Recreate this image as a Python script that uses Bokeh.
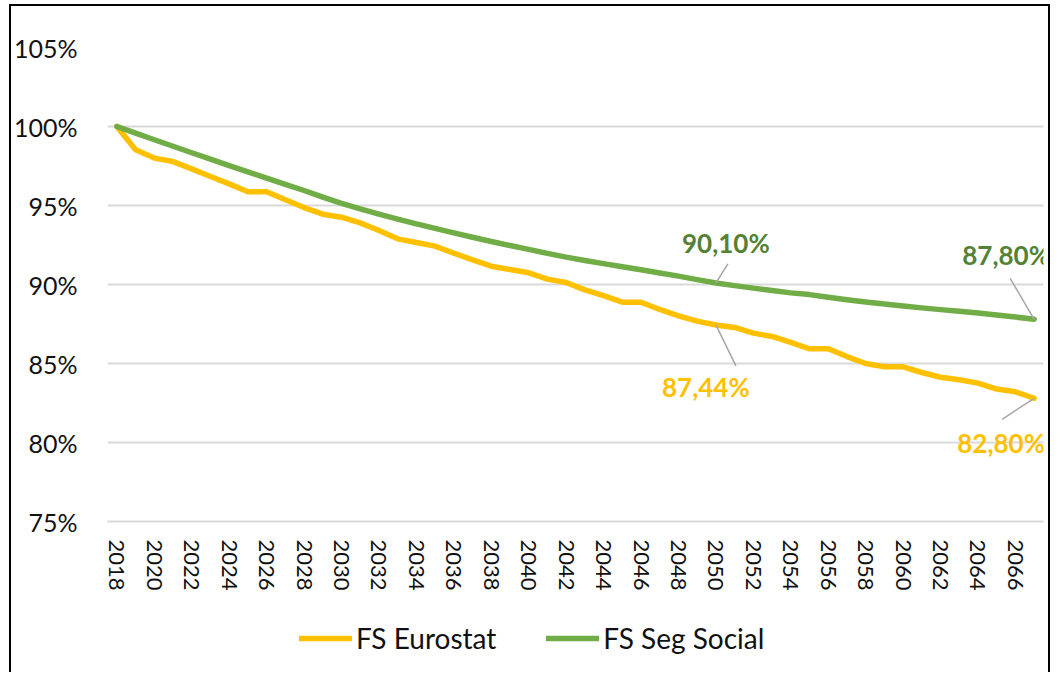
from bokeh.plotting import figure
from bokeh.models import Legend, LegendItem, FixedTicker, Range1d
from bokeh.layouts import column
from bokeh.core.properties import value
from bokeh.embed import file_html
from bokeh.resources import INLINE

# ---------------- data ----------------
years = list(range(2018, 2068))
fs_eurostat = [100.00, 98.53, 98.00, 97.78, 97.32, 96.84, 96.37, 95.87, 95.87, 95.36,
               94.87, 94.45, 94.26, 93.90, 93.42, 92.89, 92.66, 92.43, 91.98, 91.56,
               91.16, 90.95, 90.74, 90.34, 90.13, 89.66, 89.30, 88.88, 88.88, 88.42,
               88.02, 87.68, 87.44, 87.28, 86.92, 86.71, 86.33, 85.93, 85.93, 85.44,
               85.00, 84.79, 84.79, 84.43, 84.13, 83.97, 83.76, 83.38, 83.21, 82.80]
fs_seg_social = [100.00, 99.58, 99.16, 98.75, 98.34, 97.93, 97.53, 97.13, 96.73, 96.34,
                 95.95, 95.53, 95.13, 94.79, 94.46, 94.14, 93.84, 93.55, 93.27, 92.99,
                 92.72, 92.47, 92.22, 91.97, 91.73, 91.52, 91.32, 91.12, 90.93, 90.73,
                 90.53, 90.31, 90.10, 89.93, 89.77, 89.62, 89.47, 89.36, 89.19, 89.03,
                 88.89, 88.77, 88.64, 88.52, 88.41, 88.30, 88.19, 88.07, 87.94, 87.80]
series_names = ["FS Eurostat", "FS Seg Social"]
y_ticks = [75, 80, 85, 90, 95, 100, 105]
y_tick_labels = ["75%", "80%", "85%", "90%", "95%", "100%", "105%"]
x_ticks = list(range(2018, 2067, 2))
label_years = [2050, 2067]

# ---------------- style ----------------
FONT = "Lato"
YELLOW = "#FFC000"
GREEN = "#70AD47"
GREEN_LABEL = "#548235"
GRID = "#D9D9D9"
LEADER = "#A6A6A6"

W, H = 1052, 672
BL, BR, BT, BB = 107, 9, 47, 80
FRAME_W, FRAME_H = W - BL - BR, 474
MAIN_H = BT + FRAME_H + BB
LEG_H = H - MAIN_H
X0, X1 = 2017.5, 2067.5
Y0, Y1 = 75, 105
PXX = FRAME_W / (X1 - X0)
PXY = FRAME_H / (Y1 - Y0)

p = figure(frame_width=FRAME_W, frame_height=FRAME_H,
           x_range=Range1d(X0, X1), y_range=Range1d(Y0, Y1),
           output_backend="svg", toolbar_location=None,
           min_border_left=BL, min_border_right=BR, min_border_top=BT, min_border_bottom=BB)
p.outline_line_color = None
p.border_fill_color = None
p.background_fill_color = "white"

p.xgrid.grid_line_color = None
p.ygrid.grid_line_color = GRID
p.ygrid.grid_line_width = 2
p.yaxis.ticker = FixedTicker(ticks=y_ticks)
p.yaxis.major_label_overrides = {t: l for t, l in zip(y_ticks, y_tick_labels)}
p.xaxis.ticker = FixedTicker(ticks=x_ticks)
for ax in (p.xaxis, p.yaxis):
    ax.major_tick_line_color = None
    ax.minor_tick_line_color = None
    ax.major_label_text_font = FONT
    ax.major_label_text_color = "#111111"
p.yaxis.axis_line_color = None
p.xaxis.axis_line_color = GRID
p.xaxis.axis_line_width = 2
p.yaxis.major_label_text_font_size = "25px"
p.yaxis.major_label_standoff = 24
p.xaxis.major_label_text_font_size = "22px"
p.xaxis.major_label_orientation = "vertical"
p.xaxis.major_label_standoff = 12

line_kw = dict(line_width=5.5, line_join="round", line_cap="round")
p.line(years, fs_eurostat, line_color=YELLOW, **line_kw)
p.line(years, fs_seg_social, line_color=GREEN, **line_kw)

# ---------------- data labels with leaders ----------------
def fmt(v):
    return f"{v:.2f}".replace(".", ",") + "%"

vals = {
    "eu": [fs_eurostat[years.index(y)] for y in label_years],
    "ss": [fs_seg_social[years.index(y)] for y in label_years],
}
# pixel offsets (label centre, leader end) relative to the data point
offs = {
    "ss": [((10, -40), (12, -19)), ((-28, -64), (-24, -41))],
    "eu": [((-10, 62), (20, 41)), ((-33, 45), (-32, 21))],
}
colors = {"ss": GREEN_LABEL, "eu": YELLOW}
for key in ("ss", "eu"):
    xs0, ys0, xs1, ys1 = [], [], [], []
    tx, ty, tt, xo, yo = [], [], [], [], []
    for yr, v, (lab, lead) in zip(label_years, vals[key], offs[key]):
        xs0.append(yr); ys0.append(v)
        xs1.append(yr + lead[0] / PXX); ys1.append(v - lead[1] / PXY)
        tx.append(yr); ty.append(v); tt.append(fmt(v)); xo.append(lab[0]); yo.append(lab[1])
    p.segment(xs0, ys0, xs1, ys1, line_color=LEADER, line_width=1.5)
    p.text(x=tx, y=ty, text=tt, x_offset=xo, y_offset=yo,
           text_font=value(FONT), text_font_style="bold", text_font_size="26px",
           text_color=colors[key], text_align="center", text_baseline="middle")

# ---------------- legend strip (same series, drawn out of view) ----------------
lg = figure(width=W, height=LEG_H, x_range=Range1d(X0, X1), y_range=Range1d(0, 1),
            output_backend="svg", toolbar_location=None,
            x_axis_location=None, y_axis_location=None,
            min_border_left=0, min_border_right=0, min_border_top=0, min_border_bottom=0)
lg.outline_line_color = None
lg.border_fill_color = None
lg.background_fill_color = None
lg.grid.visible = False
l1 = lg.line(years, fs_eurostat, line_color=YELLOW, **line_kw)
l2 = lg.line(years, fs_seg_social, line_color=GREEN, **line_kw)
legend = Legend(items=[LegendItem(label=series_names[0], renderers=[l1]),
                       LegendItem(label=series_names[1], renderers=[l2])],
                orientation="horizontal", location=(192, 17),
                label_text_font=FONT, label_text_font_size="28px",
                label_text_color="#111111",
                glyph_width=53, glyph_height=20, label_standoff=4, spacing=50,
                padding=2, margin=0, border_line_color=None,
                background_fill_alpha=0)
lg.add_layout(legend, "center")

layout = column(p, lg, spacing=0)
layout.styles = {"background": ("linear-gradient(#000,#000) 9px 4px / 2px 100% no-repeat, "
                                "linear-gradient(#000,#000) 9px 4px / 1041px 2px no-repeat, "
                                "linear-gradient(#000,#000) 1048px 4px / 2px 100% no-repeat")}

open("out.html", "w").write(file_html(layout, INLINE))
